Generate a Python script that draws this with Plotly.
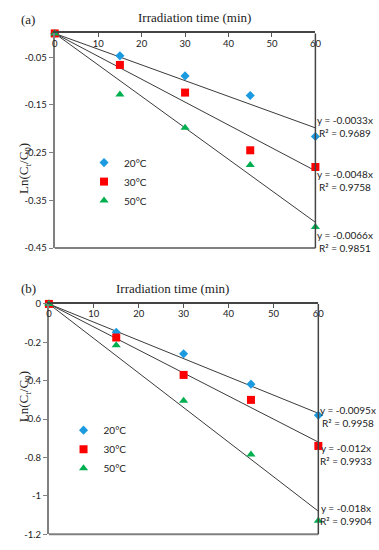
import plotly.graph_objects as go

# ---- data ----
time_min = [0, 15, 30, 45, 60]
series_names = ["20°C", "30°C", "50°C"]

a_20 = [0, -0.047, -0.089, -0.130, -0.216]
a_30 = [0, -0.066, -0.124, -0.245, -0.280]
a_50 = [0, -0.128, -0.198, -0.276, -0.406]
a_slopes = [-0.0033, -0.0048, -0.0066]
a_r2 = ["0.9689", "0.9758", "0.9851"]

b_20 = [0, -0.148, -0.260, -0.418, -0.580]
b_30 = [0, -0.175, -0.370, -0.500, -0.740]
b_50 = [0, -0.215, -0.505, -0.785, -1.130]
b_slopes = [-0.0095, -0.012, -0.018]
b_r2 = ["0.9958", "0.9933", "0.9904"]

x_ticks = [0, 10, 20, 30, 40, 50, 60]
a_yticks = [-0.05, -0.15, -0.25, -0.35, -0.45]
a_yticktext = ["-0.05", "-0.15", "-0.25", "-0.35", "-0.45"]
b_yticks = [0, -0.2, -0.4, -0.6, -0.8, -1.0, -1.2]
b_yticktext = ["0", "-0.2", "-0.4", "-0.6", "-0.8", "-1", "-1.2"]

# label anchor y (data units) for equation boxes
a_label_y = [-0.196, -0.308, -0.436]
b_label_y = [-0.587, -0.786, -1.099]

colors = ["#1C9AE0", "#FF0000", "#00B050"]
symbols = ["diamond", "square", "triangle-up"]
msizes = [7, 8, 8]

W, H = 379, 550
fig = go.Figure()

def add_panel(xa, ya, xlab, series, slopes, legend):
    for k, vals in enumerate(series):
        fig.add_trace(go.Scatter(
            x=[time_min[0], time_min[-1]], y=[0, slopes[k] * time_min[-1]],
            mode="lines", line=dict(color="#3a3a3a", width=1),
            xaxis=xa, yaxis=ya, showlegend=False, hoverinfo="skip"))
    for k, vals in enumerate(series):
        fig.add_trace(go.Scatter(
            x=time_min, y=vals, mode="markers", name=series_names[k],
            marker=dict(color=colors[k], symbol=symbols[k], size=msizes[k], line=dict(width=0)),
            xaxis=xa, yaxis=ya, legend=legend, cliponaxis=False))
    # empty trace so the tick-label axis gets drawn
    fig.add_trace(go.Scatter(x=[None], y=[None], xaxis=xlab, yaxis=ya,
                             showlegend=False, hoverinfo="skip"))

add_panel("x", "y", "x3", [a_20, a_30, a_50], a_slopes, "legend")
add_panel("x2", "y2", "x4", [b_20, b_30, b_50], b_slopes, "legend2")

tickfont = dict(family="Lato, Liberation Sans, sans-serif", size=9.5, color="#222")
serif = "Liberation Serif, Times New Roman, serif"

a_top, a_bot = 28, 247
b_top, b_bot = 304, 539

def xaxis_cfg(domain, anchor):
    return dict(domain=domain, anchor=anchor, side="top", range=[0, 60],
                tickvals=x_ticks, ticks="inside", ticklen=4, tickcolor="#555",
                showticklabels=False,
                showline=True, linecolor="#444", linewidth=1.5,
                showgrid=False, zeroline=False, fixedrange=True)

def xlabel_cfg(domain, over, top_px):
    return dict(domain=domain, overlaying=over, anchor="free", position=1 - top_px / H,
                side="bottom", range=[0, 60], tickvals=x_ticks, ticks="", ticklen=0,
                showline=False, showgrid=False, zeroline=False, tickfont=tickfont,
                fixedrange=True)

def yaxis_cfg(domain, anchor, rng, tv, tt):
    return dict(domain=domain, anchor=anchor, range=rng, tickvals=tv, ticktext=tt,
                ticks="outside", ticklen=4, tickcolor="#808080", tickfont=tickfont,
                showline=True, linecolor="#808080", linewidth=2,
                showgrid=False, zeroline=False, fixedrange=True)

xa_dom = [53 / W, 320 / W]
xb_dom = [47 / W, 323 / W]
fig.update_layout(
    width=W, height=H, margin=dict(l=0, r=0, t=0, b=0),
    paper_bgcolor="white", plot_bgcolor="white",
    xaxis=xaxis_cfg(xa_dom, "y"),
    yaxis=yaxis_cfg([1 - a_bot / H, 1 - a_top / H], "x", [-0.45, 0], a_yticks, a_yticktext),
    xaxis2=xaxis_cfg(xb_dom, "y2"),
    yaxis2=yaxis_cfg([1 - b_bot / H, 1 - b_top / H], "x2", [-1.2, 0], b_yticks, b_yticktext),
    xaxis3=xlabel_cfg(xa_dom, "x", a_top + 3),
    xaxis4=xlabel_cfg(xb_dom, "x2", b_top + 3),
    legend=dict(x=83 / W, y=1 - 145 / H, xanchor="left", yanchor="top",
                font=dict(family="Lato, Liberation Sans, sans-serif", size=10, color="#222"),
                bgcolor="rgba(0,0,0,0)", itemwidth=30, tracegroupgap=0),
    legend2=dict(x=62 / W, y=1 - 418 / H, xanchor="left", yanchor="top",
                 font=dict(family="Lato, Liberation Sans, sans-serif", size=10, color="#222"),
                 bgcolor="rgba(0,0,0,0)", itemwidth=30, tracegroupgap=0),
    showlegend=True,
)

shapes = []
for xr, yr in [("x domain", "y domain"), ("x2 domain", "y2 domain")]:
    shapes.append(dict(type="line", xref=xr, yref=yr, x0=0, x1=1, y0=0, y1=0,
                       line=dict(color="#808080", width=2)))
    shapes.append(dict(type="line", xref=xr, yref=yr, x0=1, x1=1, y0=0, y1=1,
                       line=dict(color="#444", width=1.5)))
fig.update_layout(shapes=shapes)

ann = []
eqfont = dict(family="Lato, Liberation Sans, sans-serif", size=10, color="#222")
for k in range(3):
    ann.append(dict(x=60, y=a_label_y[k], xref="x", yref="y", xanchor="left", yanchor="middle",
                    xshift=0, align="center", showarrow=False, font=eqfont,
                    text=f"y = {a_slopes[k]}x<br>R² = {a_r2[k]}"))
    ann.append(dict(x=60, y=b_label_y[k], xref="x2", yref="y2", xanchor="left", yanchor="middle",
                    xshift=0, align="center", showarrow=False, font=eqfont,
                    text=f"y = {b_slopes[k]}x<br>R² = {b_r2[k]}"))

titlefont = dict(family=serif, size=13, color="#222")
ann += [
    dict(x=196 / W, y=1 - 12 / H, xref="paper", yref="paper", showarrow=False,
         yanchor="middle", text="Irradiation time (min)", font=titlefont),
    dict(x=174 / W, y=1 - 288 / H, xref="paper", yref="paper", showarrow=False,
         yanchor="middle", text="Irradiation time (min)", font=titlefont),
    dict(x=16 / W, y=1 - 14 / H, xref="paper", yref="paper", showarrow=False,
         yanchor="middle", text="(a)", font=titlefont),
    dict(x=16 / W, y=1 - 288 / H, xref="paper", yref="paper", showarrow=False,
         yanchor="middle", text="(b)", font=titlefont),
    dict(x=12 / W, y=1 - 138 / H, xref="paper", yref="paper", showarrow=False, textangle=-90,
         text="Ln(C<sub>t</sub>/C<sub>0</sub>)", font=titlefont),
    dict(x=12 / W, y=1 - 427 / H, xref="paper", yref="paper", showarrow=False, textangle=-90,
         text="Ln(C<sub>t</sub>/C<sub>0</sub>)", font=titlefont),
]
fig.update_layout(annotations=ann)

fig.write_html("out.html", config={"displayModeBar": False})
with open("out.html", encoding="utf-8") as f:
    html = f.read()
html = html.replace("<head>", "<head><style>html,body{margin:0;padding:0;overflow:hidden;}</style>", 1)
with open("out.html", "w", encoding="utf-8") as f:
    f.write(html)
